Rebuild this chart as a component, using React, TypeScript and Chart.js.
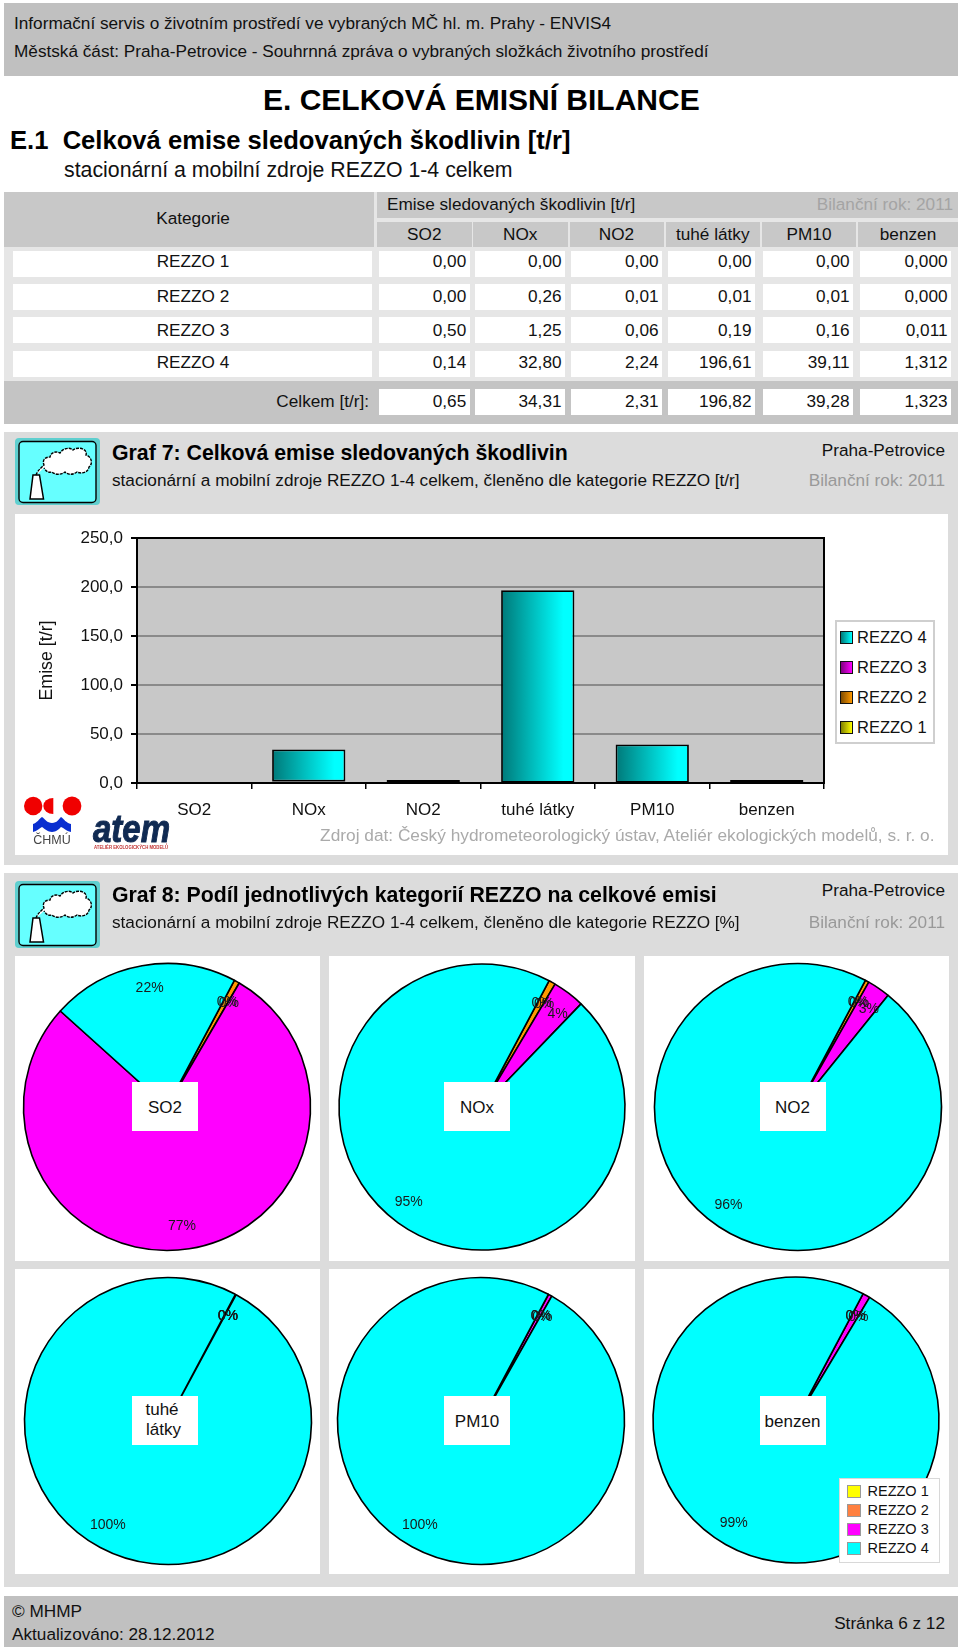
import React, { useEffect, useRef } from "react";
import { Chart, registerables } from "chart.js";

Chart.register(...registerables);

const categories = ["SO2", "NOx", "NO2", "tuhé látky", "PM10", "benzen"];
const seriesNames = ["REZZO 1", "REZZO 2", "REZZO 3", "REZZO 4"];
const rezzo1 = [0, 0, 0, 0, 0, 0];
const rezzo2 = [0.004, 0.26, 0.01, 0.01, 0.01, 0];
const rezzo3 = [0.504, 1.25, 0.06, 0.19, 0.16, 0.011];
const rezzo4 = [0.136, 32.8, 2.24, 196.61, 39.11, 1.312];
const totals = ["0,65", "34,31", "2,31", "196,82", "39,28", "1,323"];
const yTicks = [0, 50, 100, 150, 200, 250];
const pieColors = ["#ffff00", "#ff9900", "#ff00ff", "#00ffff"];
const barDark = ["#7f7f00", "#7f4c00", "#7f007f", "#007878"];
const pieLegendColors = ["#ffff00", "#ff8040", "#ff00ff", "#00ffff"];
const pieLabels = [
  ["0%", "0%", "77%", "22%"],
  ["0%", "0%", "4%", "95%"],
  ["0%", "0%", "3%", "96%"],
  ["0%", "0%", "0%", "100%"],
  ["0%", "0%", "0%", "100%"],
  ["0%", "0%", "0%", "99%"],
];

const allSeries = [rezzo1, rezzo2, rezzo3, rezzo4];
const FONT = '"Liberation Sans", Arial, sans-serif';

function fmt(v: number, col: number) {
  return v.toFixed(col === 5 ? 3 : 2).replace(".", ",");
}

type TP = {
  x: number;
  y: number;
  s: number;
  c?: string;
  b?: boolean;
  right?: boolean;
  center?: boolean;
  children: React.ReactNode;
};
function T({ x, y, s, c = "#111", b, right, center, children }: TP) {
  const tx = right ? "-100%" : center ? "-50%" : "0";
  return (
    <div
      style={{
        position: "absolute",
        left: x,
        top: y,
        fontSize: s,
        color: c,
        fontWeight: b ? 700 : 400,
        lineHeight: 1,
        whiteSpace: "pre",
        transform: `translate(${tx},-50%)`,
      }}
    >
      {children}
    </div>
  );
}

function Box({ x, y, w, h, c, extra }: { x: number; y: number; w: number; h: number; c: string; extra?: React.CSSProperties }) {
  return <div style={{ position: "absolute", left: x, top: y, width: w, height: h, background: c, ...extra }} />;
}

function Icon({ x, y }: { x: number; y: number }) {
  return (
    <svg style={{ position: "absolute", left: x, top: y }} width={85} height={67} viewBox="0 0 85 67">
      <rect x={0} y={0} width={85} height={67} rx={4} fill="#5fcfcf" />
      <rect x={4} y={3.5} width={77} height={61} rx={4} fill="#66ffff" stroke="#000" strokeWidth={1.4} />
      <path d="M18 37 L24.5 37 L28.5 61 L15 61 Z" fill="#fff" stroke="#000" strokeWidth={1.5} />
      <path
        d="M21 37 C23 32 26 30 29 27 C27 22 30 19 35 19 C36 14 41 13 45 15 C48 10 55 9 58 12 C63 8 73 11 71 17 C77 19 78 26 74 29 C73 35 66 36 62 34 C58 37 53 37 50 34 C46 37 40 37 37 34 C33 35 31 33 29 30"
        fill="#fff"
        stroke="#000"
        strokeWidth={1.4}
        strokeDasharray="3 1"
      />
    </svg>
  );
}

function Logos() {
  return (
    <svg style={{ position: "absolute", left: 20, top: 790 }} width={160} height={65} viewBox="0 0 160 65">
      <circle cx={13.2} cy={16} r={9.2} fill="#f00000" />
      <path d="M33.3 8 A10 8 0 0 0 33.3 24 Z" fill="#f00000" />
      <circle cx={52} cy={16} r={9.4} fill="#f00000" />
      <path
        d="M13 34 C17 33 19 29 22 27 C25 29 27 33 32 33 C37 33 39 29 41 27 C44 29 46 33 51 34 L51 42 C46 41 44 38 41 37 C39 39 36 42 32 42 C28 42 25 39 22 37 C20 38 17 41 13 42 Z"
        fill="#0a2fd0"
      />
      <text x={32} y={54} fontSize={12.5} fill="#444" textAnchor="middle" fontFamily={FONT}>
        ČHMÚ
      </text>
      <text
        x={73}
        y={52}
        fontSize={38}
        fontWeight={700}
        fontStyle="italic"
        fill="#102a52"
        stroke="#102a52"
        strokeWidth={1}
        fontFamily={FONT}
        textLength={77}
        lengthAdjust="spacingAndGlyphs"
      >
        atem
      </text>
      <text x={74} y={58.5} fontSize={4.5} fontWeight={700} fill="#c03030" fontFamily={FONT} textLength={74} lengthAdjust="spacingAndGlyphs">
        ATELIÉR EKOLOGICKÝCH MODELŮ
      </text>
    </svg>
  );
}

function BarChart() {
  const ref = useRef<HTMLCanvasElement>(null);
  useEffect(() => {
    const framePlugin = {
      id: "frame",
      beforeDraw(c: any) {
        const { ctx, chartArea: a } = c;
        ctx.save();
        ctx.fillStyle = "#c8c8c8";
        ctx.fillRect(a.left, a.top, a.right - a.left, a.bottom - a.top);
        ctx.restore();
      },
      afterDatasetsDraw(c: any) {
        const { ctx, chartArea: a } = c;
        ctx.save();
        ctx.strokeStyle = "#000";
        ctx.lineWidth = 2;
        ctx.strokeRect(a.left, a.top, a.right - a.left, a.bottom - a.top);
        ctx.restore();
      },
    };
    const chart = new Chart(ref.current as HTMLCanvasElement, {
      type: "bar",
      plugins: [framePlugin],
      data: {
        labels: categories,
        datasets: allSeries.map((data, i) => ({
          label: seriesNames[i],
          data,
          backgroundColor: (ctx: any) => {
            const xs = ctx.chart.scales.x;
            if ((ctx.raw ?? 0) < 1) return "rgba(0,0,0,0)";
            if (!xs || !ctx.chart.chartArea || ctx.dataIndex === undefined) return pieColors[i];
            const mid = xs.getPixelForValue(ctx.dataIndex);
            const half = (xs.width / categories.length) * 0.64 * 0.5;
            if (!Number.isFinite(mid) || !Number.isFinite(half)) return pieColors[i];
            const g = ctx.chart.ctx.createLinearGradient(mid - half, 0, mid + half, 0);
            g.addColorStop(0, barDark[i]);
            g.addColorStop(0.85, pieColors[i]);
            g.addColorStop(1, pieColors[i]);
            return g;
          },
          borderColor: "#000",
          borderWidth: (ctx: any) => ((ctx.raw ?? 0) >= 1 ? 1.8 : 0),
          borderSkipped: false,
          barPercentage: 1,
          categoryPercentage: 0.64,
          minBarLength: i === 3 ? 3 : 0,
        })),
      },
      options: {
        responsive: false,
        animation: false,
        devicePixelRatio: 1,
        layout: { padding: { left: 0, top: 24, right: 124, bottom: 0 } },
        plugins: { legend: { display: false }, tooltip: { enabled: false } },
        scales: {
          x: {
            stacked: true,
            afterFit: (s: any) => {
              s.height = 72;
            },
            grid: { drawOnChartArea: false, tickColor: "#000", tickLength: 6, lineWidth: 1.5 },
            border: { color: "#000", width: 2 },
            ticks: { color: "#111", font: { family: FONT, size: 17 }, padding: 11, maxRotation: 0, autoSkip: false },
          },
          y: {
            stacked: true,
            min: yTicks[0],
            max: yTicks[yTicks.length - 1],
            afterFit: (s: any) => {
              s.width = 122;
            },
            afterBuildTicks: (s: any) => {
              s.ticks = yTicks.map((value) => ({ value }));
            },
            grid: {
              color: "#8a8a8a",
              lineWidth: 2,
              tickColor: "#000",
              tickLength: 6,
            },
            border: { color: "#000", width: 2 },
            ticks: {
              color: "#111",
              font: { family: FONT, size: 17 },
              padding: 8,
              callback: (v: any) => Number(v).toFixed(1).replace(".", ","),
            },
            title: {
              display: true,
              text: "Emise [t/r]",
              color: "#111",
              font: { family: FONT, size: 17.8 },
              padding: { top: 21, bottom: 0 },
            },
          },
        },
      },
    } as any);
    return () => chart.destroy();
  }, []);
  return <canvas ref={ref} width={933} height={341} style={{ position: "absolute", left: 15, top: 514, display: "block" }} />;
}

function PieChart({ index, cx, cy, r }: { index: number; cx: number; cy: number; r: number }) {
  const ref = useRef<HTMLCanvasElement>(null);
  useEffect(() => {
    const labelPlugin = {
      id: "pctLabels",
      afterDatasetsDraw(c: any) {
        const { ctx } = c;
        ctx.save();
        ctx.font = `14px ${FONT}`;
        ctx.fillStyle = "#1a1a1a";
        ctx.textAlign = "center";
        ctx.textBaseline = "middle";
        c.getDatasetMeta(0).data.forEach((el: any, i: number) => {
          const mid = (el.startAngle + el.endAngle) / 2 + 0.03;
          const d = el.outerRadius * 0.84;
          ctx.fillText(pieLabels[index][i], el.x + Math.cos(mid) * d, el.y + Math.sin(mid) * d);
        });
        ctx.restore();
      },
    };
    const chart = new Chart(ref.current as HTMLCanvasElement, {
      type: "pie",
      plugins: [labelPlugin],
      data: {
        labels: seriesNames,
        datasets: [
          {
            data: allSeries.map((s) => s[index]),
            backgroundColor: pieColors,
            borderColor: "#000",
            borderWidth: index === 3 ? [0, 0, 0, 1.6] : 1.6,
          },
        ],
      },
      options: {
        responsive: false,
        animation: false,
        devicePixelRatio: 1,
        rotation: 28,
        radius: r,
        plugins: { legend: { display: false }, tooltip: { enabled: false } },
      },
    } as any);
    return () => chart.destroy();
  }, []);
  const half = 150;
  return (
    <canvas
      ref={ref}
      width={half * 2}
      height={half * 2}
      style={{ position: "absolute", left: cx - half, top: cy - half, display: "block" }}
    />
  );
}

const headerCols = [
  [377, 94.5],
  [473, 94.5],
  [569.5, 94],
  [665.5, 94.5],
  [762, 94],
  [858, 100],
];
const dataCols = [
  [379, 90.7],
  [475, 90],
  [571, 91],
  [667.5, 87.5],
  [763, 90],
  [860, 91],
];
const rowYs = [250.5, 284, 317, 350.5];
const rowTextYs = [261.5, 296.5, 330.5, 363];
const pieGeo = [
  { cx: 166.5, cy: 1107, r: 143.5, bx: 132 },
  { cx: 482, cy: 1106.5, r: 143, bx: 444 },
  { cx: 797.5, cy: 1107, r: 143.5, bx: 759.5 },
  { cx: 168, cy: 1420.5, r: 143.5, bx: 132 },
  { cx: 481, cy: 1420.5, r: 143.5, bx: 444 },
  { cx: 796, cy: 1420, r: 143, bx: 759.5 },
];
const cardXs = [
  [15, 305],
  [329, 305.5],
  [643.5, 305],
];

export default function App() {
  const s = 17.2;
  return (
    <div
      style={{
        position: "absolute",
        left: 0,
        top: 0,
        width: 960,
        height: 1650,
        background: "#fff",
        overflow: "hidden",
        fontFamily: FONT,
      }}
    >
      {/* top band */}
      <Box x={4} y={3} w={954} h={73} c="#c0c0c0" />
      <T x={14} y={23.5} s={s}>Informační servis o životním prostředí ve vybraných MČ hl. m. Prahy - ENVIS4</T>
      <T x={14} y={52} s={s}>Městská část: Praha-Petrovice - Souhrnná zpráva o vybraných složkách životního prostředí</T>
      <T x={263} y={100} s={30} b c="#000">E. CELKOVÁ EMISNÍ BILANCE</T>
      <T x={10} y={141} s={25.6} b c="#000">{"E.1  Celková emise sledovaných škodlivin [t/r]"}</T>
      <T x={64} y={170.5} s={21.3}>stacionární a mobilní zdroje REZZO 1-4 celkem</T>

      {/* table */}
      <Box x={4} y={192} w={954} h={232} c="#e6e6e6" />
      <Box x={4} y={192} w={369.5} h={55} c="#c8c8c8" />
      <Box x={377} y={192} w={581} h={26} c="#c8c8c8" />
      <T x={193} y={219} s={s} center>Kategorie</T>
      <T x={387} y={205} s={s}>Emise sledovaných škodlivin [t/r]</T>
      <T x={953} y={205} s={s} c="#a4a4a4" right>Bilanční rok: 2011</T>
      {headerCols.map(([x, w], i) => (
        <React.Fragment key={i}>
          <Box x={x} y={222} w={w} h={25} c="#c8c8c8" />
          <T x={x + w / 2} y={234.5} s={s} center>{categories[i]}</T>
        </React.Fragment>
      ))}
      {seriesNames.map((name, r) => (
        <React.Fragment key={name}>
          <Box x={13} y={rowYs[r]} w={359} h={26} c="#fff" />
          <T x={193} y={rowTextYs[r]} s={s} center>{name}</T>
          {dataCols.map(([x, w], i) => (
            <React.Fragment key={i}>
              <Box x={x} y={rowYs[r]} w={w} h={26} c="#fff" />
              <T x={x + w - 3.5} y={rowTextYs[r]} s={s} right>{fmt(allSeries[r][i], i)}</T>
            </React.Fragment>
          ))}
        </React.Fragment>
      ))}
      <Box x={4} y={381} w={954} h={43} c="#c4c4c4" />
      <T x={369} y={402} s={s} right>Celkem [t/r]:</T>
      {dataCols.map(([x, w], i) => (
        <React.Fragment key={i}>
          <Box x={x} y={389} w={w} h={25.5} c="#fff" />
          <T x={x + w - 3.5} y={402} s={s} right>{totals[i]}</T>
        </React.Fragment>
      ))}

      {/* Graf 7 */}
      <Box x={4} y={431.5} w={954} h={433.5} c="#dcdcdc" />
      <Icon x={15} y={438} />
      <T x={112} y={454} s={21.3} b c="#000">Graf 7: Celková emise sledovaných škodlivin</T>
      <T x={112} y={481} s={s}>stacionární a mobilní zdroje REZZO 1-4 celkem, členěno dle kategorie REZZO [t/r]</T>
      <T x={945} y={451} s={s} right>Praha-Petrovice</T>
      <T x={945} y={481} s={s} c="#999" right>Bilanční rok: 2011</T>
      <Box x={15} y={514} w={933} h={341} c="#fff" />
      <BarChart />
      <div
        style={{
          position: "absolute",
          left: 834.5,
          top: 620,
          width: 96,
          height: 120,
          background: "#fff",
          border: "2px solid #cfcfcf",
        }}
      />
      {[3, 2, 1, 0].map((i, row) => (
        <React.Fragment key={i}>
          <div
            style={{
              position: "absolute",
              left: 840,
              top: 631 + row * 30,
              width: 10.5,
              height: 10.5,
              border: "1.2px solid #111",
              background: `linear-gradient(90deg, ${barDark[i]}, ${pieColors[i]})`,
            }}
          />
          <T x={857} y={637 + row * 30} s={16.5}>{seriesNames[i]}</T>
        </React.Fragment>
      ))}
      <Logos />
      <T x={934.5} y={836} s={17.3} c="#aaa" right>Zdroj dat: Český hydrometeorologický ústav, Ateliér ekologických modelů, s. r. o.</T>

      {/* Graf 8 */}
      <Box x={4} y={872.5} w={954} h={714} c="#dcdcdc" />
      <Icon x={15} y={881} />
      <T x={112} y={896} s={21.3} b c="#000">Graf 8: Podíl jednotlivých kategorií REZZO na celkové emisi</T>
      <T x={112} y={923} s={s}>stacionární a mobilní zdroje REZZO 1-4 celkem, členěno dle kategorie REZZO [%]</T>
      <T x={945} y={891} s={s} right>Praha-Petrovice</T>
      <T x={945} y={923} s={s} c="#999" right>Bilanční rok: 2011</T>
      {[956, 1269].map((y) =>
        cardXs.map(([x, w]) => <Box key={`${x}-${y}`} x={x} y={y} w={w} h={304.5} c="#fff" />)
      )}
      {categories.map((name, i) => {
        const g = pieGeo[i];
        const top = i < 3 ? 1082 : 1396;
        return (
          <React.Fragment key={name}>
            <PieChart index={i} cx={g.cx} cy={g.cy} r={g.r} />
            <Box x={g.bx} y={top} w={66} h={48.5} c="#fff" />
            {name === "tuhé látky" ? (
              <>
                <T x={g.bx + 30} y={top + 13} s={17} center>tuhé</T>
                <T x={g.bx + 31.5} y={top + 33} s={17} center>látky</T>
              </>
            ) : (
              <T x={g.bx + 33} y={top + 24.5} s={17} center>{name}</T>
            )}
          </React.Fragment>
        );
      })}
      <div
        style={{
          position: "absolute",
          left: 839,
          top: 1477.5,
          width: 98.5,
          height: 83.5,
          background: "#fff",
          border: "1px solid #d8d8d8",
        }}
      />
      {seriesNames.map((name, i) => (
        <React.Fragment key={name}>
          <div
            style={{
              position: "absolute",
              left: 847,
              top: 1484.5 + i * 19,
              width: 11.5,
              height: 11.5,
              background: pieLegendColors[i],
              border: "1px solid #999",
            }}
          />
          <T x={867.5} y={1491 + i * 19} s={14.5}>{name}</T>
        </React.Fragment>
      ))}

      {/* footer */}
      <Box x={4} y={1596} w={954} h={51} c="#c0c0c0" />
      <T x={12} y={1612} s={s}>© MHMP</T>
      <T x={12} y={1635} s={s}>Aktualizováno: 28.12.2012</T>
      <T x={945} y={1623.5} s={s} right>Stránka 6 z 12</T>
    </div>
  );
}
